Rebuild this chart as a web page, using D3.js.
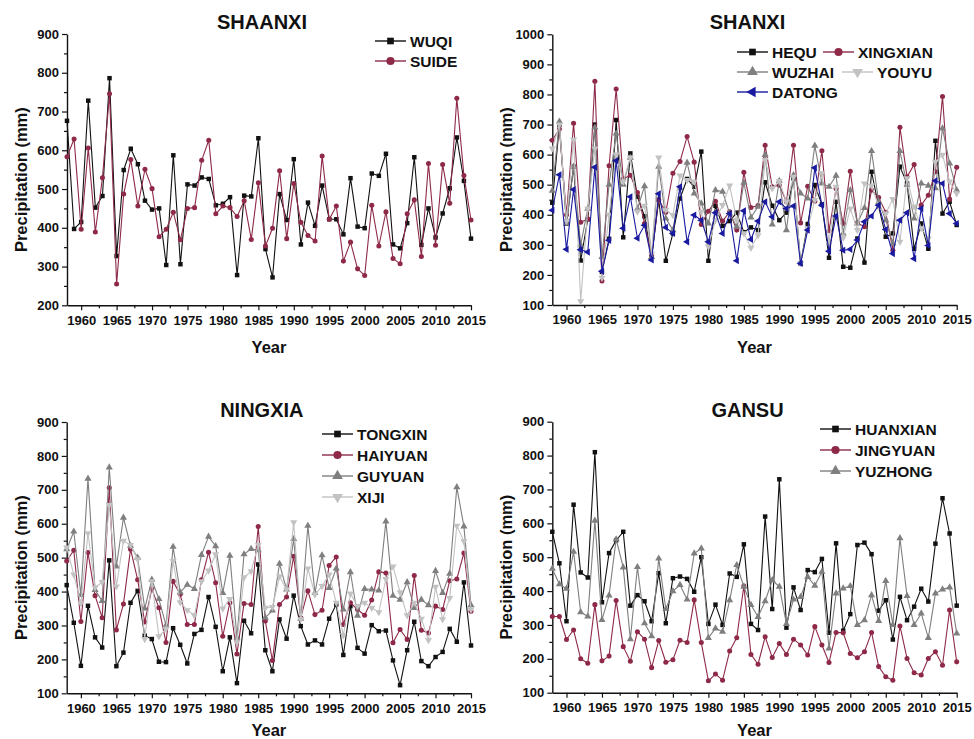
<!DOCTYPE html>
<html><head><meta charset="utf-8">
<script src="https://cdn.jsdelivr.net/npm/d3@7/dist/d3.min.js"></script>
<style>
body{margin:0;background:#fff}
svg{display:block}
text{font-family:"Liberation Sans",Arial,sans-serif;font-weight:bold;fill:#111}
</style>
</head><body>
<svg id="c" width="974" height="739"></svg>
<script>
// ---------- DATA (1958–2015) ----------
const years = d3.range(1958, 2016);

// SHAANXI
const WUQI  = [676,397,415,728,452,482,786,327,549,604, 564,470,447,450,304,587,306,512,509,530, 526,458,462,479,278,483,481,631,345,272, 487,420,577,357,465,405,509,422,422,383, 528,403,399,540,534,591,357,347,412,582, 356,450,375,437,502,633,521,372];
const SUIDE = [583,629,396,606,389,529,746,255,487,576, 456,551,501,377,396,440,369,450,452,574, 626,436,456,452,429,470,370,516,353,399, 547,372,514,414,380,366,585,422,456,314, 363,294,277,458,353,441,321,307,436,472, 326,566,355,563,463,734,535,420];

// SHANXI
const HEQU     = [440,700,370,560,248,385,700,210,320,715, 325,604,460,395,260,450,247,338,454,519, 493,610,247,430,363,379,407,342,358,349, 508,430,382,407,521,238,369,499,434,257, 443,227,224,321,241,543,427,327,338,560, 504,287,371,287,646,404,443,366];
const XINGXIAN = [648,685,400,704,375,386,844,180,563,818, 519,531,474,371,265,450,408,538,577,660, 575,368,412,445,379,410,349,541,424,431, 631,493,498,443,631,373,495,445,613,347, 487,371,545,373,360,482,457,408,282,691, 526,567,432,465,543,793,452,558];
const WUZHAI   = [480,710,370,560,300,420,690,260,500,670, 500,590,420,495,260,560,388,349,488,573, 471,438,371,482,477,404,360,507,391,427, 599,368,513,349,532,471,454,630,504,493, 530,338,482,371,423,612,443,382,305,612, 499,388,504,497,488,687,571,482];
const YOUYU    = [620,700,380,650,112,420,620,190,400,600, 510,590,410,430,270,590,416,399,530,515, 510,410,294,382,432,497,382,338,290,332, 582,488,512,443,526,238,355,449,538,305, 493,323,421,349,504,497,427,404,452,310, 521,427,355,321,576,599,510,471];
const DATONG   = [415,533,285,484,284,276,558,212,315,580, 355,460,322,365,250,470,358,338,493,310, 399,382,310,407,338,404,247,413,318,379, 443,393,443,421,429,238,349,556,432,279, 396,282,285,316,377,396,432,351,271,382, 407,254,421,298,513,504,404,371];

// NINGXIA
const TONGXIN = [419,308,181,358,265,235,492,180,220,367, 402,270,260,193,192,292,243,188,275,287, 384,296,165,265,130,314,277,480,227,165, 318,261,388,298,244,256,244,320,362,213, 357,234,217,301,283,285,197,124,227,311, 195,180,207,222,290,252,427,241];
const HAIYUAN = [490,522,312,515,388,323,706,287,363,525, 435,310,408,352,250,430,392,303,303,435, 516,426,268,367,216,365,362,592,313,197, 362,384,504,323,402,332,345,477,502,303, 367,347,330,375,458,455,249,288,259,447, 286,278,357,347,432,437,514,342];
const GUYUAN  = [525,577,390,733,405,372,766,474,618,535, 500,350,435,378,300,532,398,420,408,508, 562,534,396,506,265,510,526,522,323,344, 482,406,555,320,594,396,507,411,468,347, 457,329,408,406,403,607,388,376,428,352, 376,360,461,396,453,708,592,360];
const XIJI    = [530,450,365,572,412,428,655,415,550,537, 495,260,430,268,290,490,368,345,330,430, 462,510,350,378,250,442,460,538,352,354, 445,406,604,318,468,391,416,450,367,271, 394,357,367,352,339,437,474,398,330,367, 320,257,414,318,381,594,548,347];

// GANSU
const HUANXIAN = [575,482,311,655,455,440,810,367,512,550, 575,357,388,370,311,453,305,438,443,436, 398,500,303,360,300,452,442,538,303,285, 620,347,730,292,411,344,462,456,495,277, 541,283,332,536,543,509,342,373,257,383, 314,354,407,369,540,674,570,357];
const JINGYUAN = [325,325,257,285,200,187,360,194,208,372, 236,193,280,258,174,254,190,197,255,248, 374,248,135,155,137,223,262,415,213,184, 265,204,245,213,258,241,211,295,241,189, 278,277,216,203,221,278,177,147,137,297, 201,159,152,201,221,181,344,191];
const YUZHONG  = [466,420,407,516,338,325,608,315,387,553, 470,258,471,305,267,496,347,400,418,375, 511,526,262,290,280,373,477,413,359,324, 370,432,413,303,375,383,442,416,457,231, 393,408,415,300,314,388,312,430,300,556, 386,300,334,262,393,405,411,275];

// Tick labels
const xTickYears = [1960,1965,1970,1975,1980,1985,1990,1995,2000,2005,2010,2015];
const yTicksA = [200,300,400,500,600,700,800,900];
const yTicksB = [100,200,300,400,500,600,700,800,900,1000];
const yTicksC = [100,200,300,400,500,600,700,800,900];

// ---------- STYLES ----------
const STY = {
  sq:   {color:"#111111", sym:d3.symbolSquare,   rot:0,   size:20, lsize:44},
  ci:   {color:"#8e2a48", sym:d3.symbolCircle,   rot:0,   size:20, lsize:52},
  up:   {color:"#7f7f7f", sym:d3.symbolTriangle, rot:0,   size:22, lsize:50},
  dn:   {color:"#c2c2c2", sym:d3.symbolTriangle, rot:180, size:22, lsize:50},
  lf:   {color:"#1a1aa0", sym:d3.symbolTriangle, rot:-90, size:22, lsize:50}
};

const panels = [
  {title:"SHAANXI", x0:67, x1:471, yTop:34, yBot:305.3, dom:[200,900], ticks:yTicksA,
   series:[["WUQI",WUQI,"sq"],["SUIDE",SUIDE,"ci"]],
   legend:[[375,41,0],[375,61,1]]},
  {title:"SHANXI", x0:552.3, x1:956.7, yTop:34.3, yBot:305, dom:[100,1000], ticks:yTicksB,
   series:[["HEQU",HEQU,"sq"],["XINGXIAN",XINGXIAN,"ci"],["WUZHAI",WUZHAI,"up"],["YOUYU",YOUYU,"dn"],["DATONG",DATONG,"lf"]],
   legend:[[737,52,0],[823,52,1],[737,72,2],[842,72,3],[737,92,4]]},
  {title:"NINGXIA", x0:66.7, x1:471, yTop:422, yBot:693.3, dom:[100,900], ticks:yTicksC,
   series:[["TONGXIN",TONGXIN,"sq"],["HAIYUAN",HAIYUAN,"ci"],["GUYUAN",GUYUAN,"up"],["XIJI",XIJI,"dn"]],
   legend:[[322,434,0],[322,455,1],[322,476,2],[322,497,3]]},
  {title:"GANSU", x0:552.3, x1:956.7, yTop:421.7, yBot:692.7, dom:[100,900], ticks:yTicksC,
   series:[["HUANXIAN",HUANXIAN,"sq"],["JINGYUAN",JINGYUAN,"ci"],["YUZHONG",YUZHONG,"up"]],
   legend:[[820,429,0],[820,450,1],[820,471,2]]}
];

const svg = d3.select("#c");

function sym(st, size){ return d3.symbol().type(st.sym).size(size)(); }

panels.forEach(p => {
  const g = svg.append("g");
  const x = d3.scaleLinear().domain([1958,2015]).range([p.x0,p.x1]);
  const y = d3.scaleLinear().domain(p.dom).range([p.yBot,p.yTop]);

  // minor ticks
  const minorX = d3.range(1960, 2015.1, 2.5).filter(v => !xTickYears.includes(v));
  const minorY = d3.range(p.dom[0]+50, p.dom[1], 100);
  g.append("g").attr("transform",`translate(0,${p.yBot})`)
    .call(d3.axisBottom(x).tickValues(minorX).tickSize(3).tickFormat(""))
    .call(a=>a.select(".domain").remove());
  g.append("g").attr("transform",`translate(${p.x0},0)`)
    .call(d3.axisLeft(y).tickValues(minorY).tickSize(3).tickFormat(""))
    .call(a=>a.select(".domain").remove());

  // major axes
  g.append("g").attr("transform",`translate(0,${p.yBot})`)
    .call(d3.axisBottom(x).tickValues(xTickYears).tickSize(5).tickPadding(5).tickFormat(d3.format("d")).tickSizeOuter(0));
  g.append("g").attr("transform",`translate(${p.x0},0)`)
    .call(d3.axisLeft(y).tickValues(p.ticks).tickSize(5).tickPadding(3).tickFormat(d3.format("d")).tickSizeOuter(0));
  g.selectAll(".tick line").attr("stroke","#111").attr("stroke-width",1.2);
  g.selectAll(".domain").attr("stroke","#111").attr("stroke-width",1.4);
  g.selectAll(".tick text").attr("font-size",13).attr("fill","#111")
    .attr("font-family","Liberation Sans, Arial, sans-serif").attr("font-weight","bold");

  // axis titles
  g.append("text").attr("x",(p.x0+p.x1)/2).attr("y",Math.min(p.yBot+48, 736))
    .attr("text-anchor","middle").attr("font-size",16.5).text("Year");
  const cy = (p.yTop+p.yBot)/2 + 10;
  g.append("text").attr("transform",`translate(${p.x0-40},${cy}) rotate(-90)`)
    .attr("text-anchor","middle").attr("font-size",16.5).text("Precipitation (mm)");

  // title
  g.append("text").attr("x",(p.x0+p.x1)/2 - 7).attr("y",p.yTop-5)
    .attr("text-anchor","middle").attr("font-size",20).text(p.title);

  // series
  const line = d3.line().x((d,i)=>x(years[i])).y(d=>y(d));
  p.series.forEach(([name,vals,sk]) => {
    const st = STY[sk];
    const sg = g.append("g");
    sg.append("path").datum(vals).attr("d",line).attr("fill","none")
      .attr("stroke",st.color).attr("stroke-width",1.1).attr("stroke-linejoin","round");
    sg.selectAll("path.m").data(vals).join("path").attr("class","m")
      .attr("d",sym(st,st.size)).attr("fill",st.color)
      .attr("transform",(d,i)=>`translate(${x(years[i])},${y(d)}) rotate(${st.rot})`);
  });

  // legend
  p.legend.forEach(([lx,ly,idx]) => {
    const [name,,sk] = p.series[idx];
    const st = STY[sk];
    const lg = g.append("g");
    lg.append("line").attr("x1",lx).attr("x2",lx+31).attr("y1",ly).attr("y2",ly)
      .attr("stroke",st.color).attr("stroke-width",1.4);
    lg.append("path").attr("d",sym(st,st.lsize)).attr("fill",st.color)
      .attr("transform",`translate(${lx+15.5},${ly}) rotate(${st.rot})`);
    lg.append("text").attr("x",lx+35).attr("y",ly).attr("dy","0.36em")
      .attr("font-size",15.5).text(name);
  });
});
</script>
</body></html>
